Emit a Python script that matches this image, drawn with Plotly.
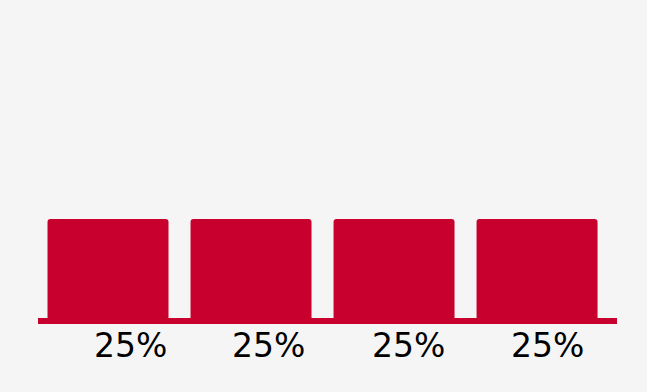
import plotly.graph_objects as go

categories = ["A", "B", "C", "D"]
values = [25, 25, 25, 25]
labels = ["25%", "25%", "25%", "25%"]

label_shift_px = [22, 17.5, 14, 10]

RED = "#c8002d"
BG = "#f5f5f5"

fig = go.Figure()
fig.add_trace(go.Bar(
    x=categories, y=values,
    marker=dict(color=RED, line=dict(width=0), cornerradius=3),
    width=0.846,
    hoverinfo="skip",
))

for i, (c, lab) in enumerate(zip(categories, labels)):
    fig.add_annotation(
        x=c, y=0, xref="x", yref="y", text=lab, showarrow=False,
        yanchor="top", xanchor="center", xshift=label_shift_px[i], yshift=-6,
        font=dict(family="DejaVu Sans", size=33, color="#000000"),
    )

fig.update_layout(
    width=647, height=392,
    margin=dict(l=38, r=30, t=21, b=74, pad=0),
    paper_bgcolor=BG, plot_bgcolor=BG,
    showlegend=False,
    xaxis=dict(range=[-0.4895, 3.559], showline=True, linecolor=RED, linewidth=6,
               showticklabels=False, ticks="", showgrid=False, zeroline=False, fixedrange=True),
    yaxis=dict(range=[0, 75], visible=False, showgrid=False, zeroline=False, fixedrange=True),
)

fig.write_html("out.html")
